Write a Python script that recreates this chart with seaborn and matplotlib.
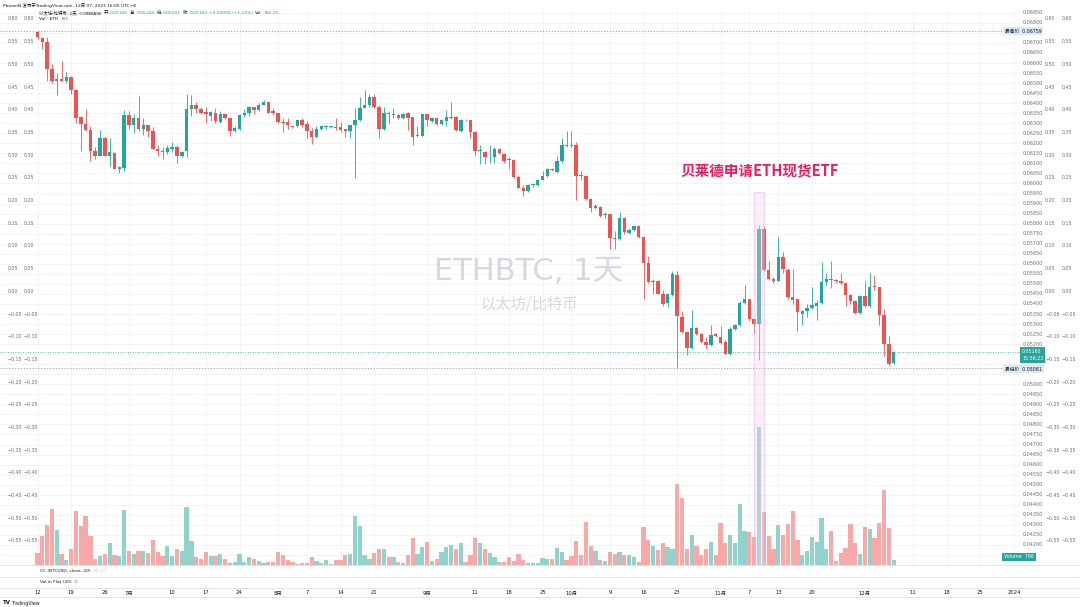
import numpy as np
import pandas as pd
import matplotlib
matplotlib.use("Agg")
import matplotlib.pyplot as plt
import seaborn as sns
from matplotlib.patches import Rectangle
from matplotlib.lines import Line2D
from matplotlib import transforms

# ETHBTC, 1D, COINBASE  -- 2023-06-12 .. 2023-12-07
opens = [
    0.06755, 0.06726, 0.06705, 0.06568, 0.06511, 0.06518, 0.06511, 0.06530, 0.06468, 0.06331,
    0.06297, 0.06264, 0.06164, 0.06139, 0.06228, 0.06139, 0.06152, 0.06073, 0.06079, 0.06341,
    0.06290, 0.06328, 0.06273, 0.06290, 0.06259, 0.06173, 0.06164, 0.06159, 0.06171, 0.06180,
    0.06135, 0.06161, 0.06372, 0.06389, 0.06372, 0.06355, 0.06336, 0.06353, 0.06307, 0.06345,
    0.06324, 0.06259, 0.06273, 0.06340, 0.06353, 0.06379, 0.06367, 0.06393, 0.06408, 0.06359,
    0.06352, 0.06307, 0.06304, 0.06285, 0.06285, 0.06316, 0.06297, 0.06262, 0.06231, 0.06273,
    0.06281, 0.06281, 0.06281, 0.06281, 0.06269, 0.06259, 0.06290, 0.06314, 0.06377, 0.06393,
    0.06431, 0.06379, 0.06273, 0.06353, 0.06341, 0.06341, 0.06324, 0.06353, 0.06331, 0.06237,
    0.06238, 0.06345, 0.06310, 0.06324, 0.06297, 0.06310, 0.06324, 0.06331, 0.06262, 0.06317,
    0.06314, 0.06256, 0.06161, 0.06158, 0.06130, 0.06132, 0.06170, 0.06149, 0.06122, 0.06115,
    0.06032, 0.05979, 0.05964, 0.05991, 0.05993, 0.06019, 0.06036, 0.06073, 0.06056, 0.06113,
    0.06194, 0.06190, 0.06190, 0.06039, 0.06039, 0.05924, 0.05878, 0.05885, 0.05842, 0.05847,
    0.05730, 0.05723, 0.05826, 0.05752, 0.05770, 0.05787, 0.05732, 0.05606, 0.05509, 0.05516,
    0.05452, 0.05404, 0.05443, 0.05546, 0.05335, 0.05260, 0.05181, 0.05280, 0.05249, 0.05211,
    0.05198, 0.05249, 0.05236, 0.05211, 0.05151, 0.05277, 0.05294, 0.05404, 0.05423, 0.05323,
    0.05301, 0.05773, 0.05567, 0.05526, 0.05516, 0.05632, 0.05567, 0.05435, 0.05423, 0.05352,
    0.05363, 0.05380, 0.05392, 0.05406, 0.05507, 0.05524, 0.05517, 0.05512, 0.05503, 0.05443,
    0.05414, 0.05354, 0.05440, 0.05392, 0.05490, 0.05483, 0.05345, 0.05203, 0.05106,
]
highs = [
    0.06759, 0.06731, 0.06731, 0.06594, 0.06551, 0.06611, 0.06554, 0.06537, 0.06470, 0.06336,
    0.06371, 0.06285, 0.06182, 0.06267, 0.06230, 0.06225, 0.06156, 0.06087, 0.06367, 0.06362,
    0.06345, 0.06434, 0.06324, 0.06293, 0.06283, 0.06190, 0.06182, 0.06190, 0.06207, 0.06190,
    0.06164, 0.06448, 0.06439, 0.06405, 0.06383, 0.06383, 0.06362, 0.06376, 0.06362, 0.06345,
    0.06328, 0.06288, 0.06345, 0.06371, 0.06388, 0.06383, 0.06400, 0.06417, 0.06408, 0.06376,
    0.06353, 0.06324, 0.06324, 0.06286, 0.06317, 0.06324, 0.06310, 0.06276, 0.06285, 0.06293,
    0.06290, 0.06286, 0.06324, 0.06307, 0.06273, 0.06290, 0.06376, 0.06431, 0.06468, 0.06448,
    0.06444, 0.06393, 0.06383, 0.06362, 0.06376, 0.06345, 0.06352, 0.06357, 0.06331, 0.06285,
    0.06348, 0.06348, 0.06331, 0.06328, 0.06319, 0.06365, 0.06408, 0.06336, 0.06319, 0.06321,
    0.06317, 0.06259, 0.06190, 0.06161, 0.06190, 0.06182, 0.06176, 0.06152, 0.06130, 0.06122,
    0.06044, 0.05993, 0.05998, 0.06001, 0.06022, 0.06061, 0.06079, 0.06079, 0.06139, 0.06225,
    0.06259, 0.06262, 0.06207, 0.06061, 0.06044, 0.05927, 0.05898, 0.05890, 0.05856, 0.05850,
    0.05761, 0.05856, 0.05833, 0.05778, 0.05790, 0.05792, 0.05735, 0.05641, 0.05524, 0.05521,
    0.05469, 0.05452, 0.05564, 0.05564, 0.05366, 0.05263, 0.05370, 0.05284, 0.05254, 0.05237,
    0.05297, 0.05254, 0.05289, 0.05220, 0.05284, 0.05301, 0.05414, 0.05495, 0.05426, 0.05332,
    0.05795, 0.05787, 0.05615, 0.05534, 0.05735, 0.05658, 0.05581, 0.05572, 0.05426, 0.05370,
    0.05400, 0.05486, 0.05418, 0.05610, 0.05552, 0.05612, 0.05524, 0.05552, 0.05507, 0.05452,
    0.05418, 0.05443, 0.05512, 0.05555, 0.05546, 0.05486, 0.05375, 0.05241, 0.05168,
]
lows = [
    0.06719, 0.06671, 0.06508, 0.06499, 0.06439, 0.06508, 0.06499, 0.06448, 0.06302, 0.06164,
    0.06259, 0.06113, 0.06122, 0.06135, 0.06135, 0.06087, 0.06070, 0.06053, 0.06061, 0.06273,
    0.06250, 0.06259, 0.06242, 0.06233, 0.06170, 0.06135, 0.06122, 0.06147, 0.06156, 0.06104,
    0.06130, 0.06130, 0.06336, 0.06353, 0.06345, 0.06302, 0.06310, 0.06302, 0.06302, 0.06319,
    0.06238, 0.06254, 0.06267, 0.06331, 0.06336, 0.06345, 0.06362, 0.06389, 0.06350, 0.06341,
    0.06300, 0.06256, 0.06273, 0.06278, 0.06281, 0.06281, 0.06228, 0.06199, 0.06225, 0.06264,
    0.06273, 0.06276, 0.06267, 0.06256, 0.06233, 0.06228, 0.06027, 0.06310, 0.06376, 0.06383,
    0.06376, 0.06225, 0.06267, 0.06297, 0.06324, 0.06319, 0.06319, 0.06266, 0.06190, 0.06233,
    0.06238, 0.06285, 0.06307, 0.06290, 0.06290, 0.06285, 0.06319, 0.06259, 0.06256, 0.06310,
    0.06228, 0.06135, 0.06099, 0.06099, 0.06101, 0.06101, 0.06147, 0.06104, 0.06070, 0.06027,
    0.05976, 0.05936, 0.05958, 0.05984, 0.05989, 0.06015, 0.06032, 0.06061, 0.06053, 0.06104,
    0.06182, 0.06180, 0.05916, 0.06019, 0.05916, 0.05856, 0.05873, 0.05833, 0.05830, 0.05675,
    0.05675, 0.05718, 0.05747, 0.05747, 0.05764, 0.05727, 0.05426, 0.05503, 0.05452, 0.05449,
    0.05392, 0.05387, 0.05438, 0.05081, 0.05255, 0.05146, 0.05174, 0.05246, 0.05208, 0.05177,
    0.05191, 0.05237, 0.05203, 0.05150, 0.05148, 0.05272, 0.05289, 0.05400, 0.05315, 0.05255,
    0.05122, 0.05564, 0.05521, 0.05503, 0.05512, 0.05555, 0.05426, 0.05400, 0.05263, 0.05297,
    0.05335, 0.05375, 0.05318, 0.05400, 0.05495, 0.05478, 0.05503, 0.05495, 0.05392, 0.05400,
    0.05349, 0.05349, 0.05387, 0.05387, 0.05469, 0.05297, 0.05143, 0.05091, 0.05101,
]
closes = [
    0.06731, 0.06705, 0.06568, 0.06508, 0.06520, 0.06511, 0.06530, 0.06468, 0.06328, 0.06297,
    0.06264, 0.06164, 0.06139, 0.06228, 0.06139, 0.06156, 0.06073, 0.06080, 0.06341, 0.06290,
    0.06328, 0.06273, 0.06290, 0.06259, 0.06173, 0.06163, 0.06159, 0.06176, 0.06182, 0.06135,
    0.06156, 0.06371, 0.06389, 0.06371, 0.06353, 0.06345, 0.06355, 0.06310, 0.06345, 0.06324,
    0.06262, 0.06276, 0.06340, 0.06353, 0.06379, 0.06367, 0.06393, 0.06407, 0.06353, 0.06352,
    0.06307, 0.06300, 0.06290, 0.06281, 0.06316, 0.06290, 0.06262, 0.06231, 0.06273, 0.06288,
    0.06286, 0.06283, 0.06278, 0.06266, 0.06259, 0.06290, 0.06314, 0.06377, 0.06393, 0.06431,
    0.06379, 0.06273, 0.06353, 0.06345, 0.06345, 0.06324, 0.06348, 0.06328, 0.06233, 0.06242,
    0.06345, 0.06314, 0.06324, 0.06297, 0.06314, 0.06331, 0.06331, 0.06267, 0.06314, 0.06314,
    0.06256, 0.06161, 0.06166, 0.06130, 0.06134, 0.06170, 0.06152, 0.06113, 0.06118, 0.06032,
    0.05979, 0.05964, 0.05991, 0.05996, 0.06019, 0.06039, 0.06073, 0.06067, 0.06113, 0.06194,
    0.06187, 0.06185, 0.06039, 0.06036, 0.05924, 0.05876, 0.05886, 0.05838, 0.05847, 0.05730,
    0.05723, 0.05826, 0.05758, 0.05770, 0.05787, 0.05732, 0.05606, 0.05507, 0.05516, 0.05452,
    0.05400, 0.05448, 0.05550, 0.05340, 0.05260, 0.05181, 0.05280, 0.05249, 0.05211, 0.05198,
    0.05246, 0.05242, 0.05206, 0.05151, 0.05277, 0.05294, 0.05404, 0.05423, 0.05323, 0.05301,
    0.05773, 0.05567, 0.05526, 0.05516, 0.05632, 0.05572, 0.05435, 0.05418, 0.05358, 0.05366,
    0.05380, 0.05395, 0.05406, 0.05507, 0.05526, 0.05517, 0.05512, 0.05503, 0.05443, 0.05414,
    0.05354, 0.05440, 0.05392, 0.05486, 0.05483, 0.05345, 0.05203, 0.05102, 0.05160,
]
volumes = [
    1820, 4316, 5980, 8424, 5304, 1716, 780, 2340, 8216, 5824,
    7384, 4420, 884, 1404, 1716, 3380, 1456, 1300, 8320, 2080,
    1612, 2184, 2184, 1820, 3744, 1976, 1404, 2860, 1300, 2444,
    2184, 8736, 3640, 1196, 936, 1924, 1404, 1404, 1716, 936,
    364, 468, 1612, 520, 1196, 936, 676, 260, 468, 468,
    2028, 1560, 780, 520, 156, 260, 364, 1196, 676, 364,
    780, 156, 780, 780, 1560, 1612, 7384, 5824, 1456, 936,
    1820, 2444, 2444, 1196, 1196, 520, 364, 1456, 4056, 1612,
    2756, 3484, 676, 884, 1976, 2704, 3016, 2444, 3276, 520,
    1456, 4004, 3276, 2340, 1820, 1196, 468, 520, 1144, 676,
    1716, 780, 260, 260, 260, 1040, 936, 936, 2600, 1976,
    780, 1300, 3640, 1456, 6500, 2860, 2184, 780, 676, 1976,
    1716, 1976, 1560, 1560, 1196, 520, 5720, 3796, 2860, 2236,
    3380, 2704, 2340, 12220, 10036, 2340, 4524, 2860, 1560, 2340,
    3536, 1560, 6396, 3380, 4524, 3380, 9204, 5200, 4940, 4160,
    20800, 7956, 4420, 2340, 5980, 4524, 6136, 8216, 3744, 1560,
    2184, 4160, 3536, 7020, 2340, 5096, 676, 1820, 2496, 6136,
    3380, 1716, 5720, 5356, 4056, 6396, 11284, 5564, 786.25,
]

tick_days = [0, 7, 14, 19, 28, 35, 42, 50, 56, 63, 70, 81, 91, 98,
             105, 111, 119, 126, 133, 142, 148, 154, 161, 172, 182, 189, 196, 203]
tick_labels = ["12", "19", "26", "7月", "10", "17", "24", "8月", "7", "14", "21", "9月", "11", "18",
               "25", "10月", "9", "16", "23", "11月", "7", "13", "20", "12月", "11", "18", "25", "2024"]
osc_ticks = [0.60, 0.55, 0.50, 0.45, 0.40, 0.35, 0.30, 0.25, 0.20, 0.15, 0.10, 0.05,
             0.00, -0.05, -0.10, -0.15, -0.20, -0.25, -0.30, -0.35, -0.40, -0.45, -0.50, -0.55]

assert len(opens) == len(highs) == len(lows) == len(closes) == len(volumes) == 179

W, H = 1080, 607
UP, DOWN = "#26a69a", "#ef5350"
DARK, GREY = "#131722", "#6a6d78"
YLO, YHI = 0.04100, 0.06864


def fx(x):
    return x / W


def fy(y):
    return 1 - y / H


sns.set_theme(style="white")
plt.rcParams["font.family"] = ["DejaVu Sans", "Noto Sans CJK SC"]

fig = plt.figure(figsize=(W / 100, H / 100), dpi=100)
fig.patch.set_facecolor("white")
renderer = fig.canvas.get_renderer()
ax = fig.add_axes([0, fy(565), fx(1020), (565 - 10) / H])


def run(x, y, parts, size=3.2, gap=2.0):
    # place text pieces one after another on a line
    for s, cc in parts:
        t = fig.text(fx(x), fy(y), s, ha="left", va="center", fontsize=size, color=cc)
        x = t.get_window_extent(renderer).x1 + gap


o, h, l, c = map(np.array, (opens, highs, lows, closes))
idx = np.arange(len(c))
col = np.where(c >= o, UP, DOWN)

# grid
price_ticks = np.round(np.arange(0.0415, 0.06851, 0.0005), 5)
ax.set_xlim(-37.5 / 4.81, (1020 - 37.5) / 4.81)
ax.set_ylim(YLO, YHI)
ax.set_xticks(tick_days)
ax.set_yticks(price_ticks)
ax.grid(True, color="#f0f2f6", lw=0.6)
ax.tick_params(length=0, labelbottom=False, labelleft=False)
for s in ax.spines.values():
    s.set_visible(False)

# candles
ax.vlines(idx, l, h, colors=col, lw=0.6, zorder=3)
ax.bar(idx, np.maximum(np.abs(c - o), 0.00004), bottom=np.minimum(o, c),
       width=0.72, color=col, lw=0, zorder=4)

# highest / lowest / last price lines
ax.axhline(max(highs), color="#9598a1", lw=0.6, ls=(0, (1.5, 2)), zorder=2)
ax.axhline(min(lows), color="#9598a1", lw=0.6, ls=(0, (1.5, 2)), zorder=2)
ax.axhline(closes[-1], color=UP, lw=0.6, ls=(0, (1, 2)), zorder=2)

# volume pane (overlay)
axv = ax.twinx()
axv.set_ylim(0, 83700)
vol_df = pd.DataFrame({"day": idx, "volume": volumes,
                       "dir": np.where(c >= o, "up", "down")})
sns.barplot(data=vol_df, x="day", y="volume", hue="dir", native_scale=True,
            palette={"up": "#92d2cc", "down": "#f7a9a7"}, dodge=False, width=0.88,
            saturation=1, errorbar=None, legend=False, linewidth=0, ax=axv)
axv.set_xlim(ax.get_xlim())
axv.axis("off")

# highlight of the BlackRock filing day (2023-11-09)
axv.add_patch(Rectangle((148.96, 0), 2.08, 56200, facecolor="#f6d6ee", alpha=0.35,
                        edgecolor="#d79ae0", lw=1.0, zorder=6))
ax.text(150, 0.06067, "贝莱德申请ETH现货ETF", ha="center", va="center", fontsize=10.5,
        color="#e91e63", fontweight="bold", family=["Noto Sans CJK SC", "DejaVu Sans"], zorder=7)

# watermark
fig.text(fx(529), fy(272), "ETHBTC, 1天", ha="center", va="center", fontsize=22,
         color="#d6d8de", family=["DejaVu Sans", "Noto Sans CJK SC"], zorder=0.5)
fig.text(fx(529), fy(304), "以太坊/比特币", ha="center", va="center", fontsize=11,
         color="#d6d8de", family=["Noto Sans CJK SC", "DejaVu Sans"], zorder=0.5)

# right price scale (labels under the tags stay hidden, as on the chart)
tag_rows = [31, 355, 369, 557]
ytr = transforms.blended_transform_factory(fig.transFigure, ax.transData)
for p in price_ticks:
    ypx = 10 + (YHI - p) / (YHI - YLO) * 555
    if min(abs(ypx - t) for t in tag_rows) < 6:
        continue
    fig.text(fx(1023), p, f"{p:.5f}", transform=ytr, ha="left", va="center",
             fontsize=3.5, color=GREY)

# the two extra oscillator scales on each side
axo = fig.add_axes(ax.get_position().bounds, frameon=False)
axo.set_ylim(-0.6029, 0.6198)
axo.axis("off")
otr = transforms.blended_transform_factory(fig.transFigure, axo.transData)
for v in osc_ticks:
    lab = f"{v:.2f}".replace("-", "\u2212")
    for xp in (7.5, 24, 1045, 1062):
        fig.text(fx(xp), v, lab, transform=otr, ha="left", va="center", fontsize=3.4, color=GREY)

# price tags
tag = dict(boxstyle="square,pad=0.35", fc="#dde8f8", ec="none")
fig.text(fx(1005), fy(31), f"最高价  {max(highs):.5f}", ha="left", va="center",
         fontsize=3.4, color=DARK, bbox=tag, zorder=5)
fig.text(fx(1005), fy(369), f"最低价  {min(lows):.5f}", ha="left", va="center",
         fontsize=3.4, color=DARK, bbox=tag, zorder=5)
fig.text(fx(1022), fy(355), f"{closes[-1]:.5f}\n15:56:23", ha="left", va="center",
         fontsize=3.4, color="white", linespacing=1.3,
         bbox=dict(boxstyle="square,pad=0.45", fc=UP, ec="none"), zorder=5)
fig.text(fx(1004), fy(557), f"Volume  {volumes[-1]:.0f}", ha="left", va="center",
         fontsize=3.4, color="white",
         bbox=dict(boxstyle="square,pad=0.35", fc=UP, ec="none"), zorder=5)

# pane separators
for yy in (565, 576.5, 588, 597):
    fig.add_artist(Line2D([0, fx(1078)], [fy(yy), fy(yy)], color="#e0e3eb", lw=0.7))

# date axis
xtr = transforms.blended_transform_factory(ax.transData, fig.transFigure)
for d, lab in zip(tick_days, tick_labels):
    ax.text(d, fy(593), lab, transform=xtr, ha="center", va="center",
            fontsize=3.8, color=DARK, clip_on=False)

# header
fig.text(fx(3), fy(5), "PhoronN 发布于TradingView.com, 12月 07, 2023 16:05 UTC+8",
         ha="left", va="center", fontsize=3.2, color=DARK)
chg = closes[-1] - closes[-2]
run(39, 13, [("以太坊/比特币, 1天, COINBASE", DARK),
             ("开", DARK), (f"{opens[-1]:.5f}", UP),
             ("高", DARK), (f"{highs[-1]:.5f}", UP),
             ("低", DARK), (f"{lows[-1]:.5f}", UP),
             ("收", DARK), (f"{closes[-1]:.5f}", UP),
             (f"+{chg:.5f} (+{chg / closes[-2] * 100:.2f}%)", UP),
             ("Vol", DARK), (f"{volumes[-1]:.2f}", UP)])
run(39, 19.5, [("Vol · ETH", DARK), (f"{volumes[-1]:.0f}", UP)])

# indicator legends below
run(40, 570.5, [("CC (BTCUSD, close, 20)", DARK), ("\u22120.77", "#f5c518")])
run(40, 582, [("Vol in Flat (20)", DARK), ("\u2205", GREY)])

# logo
fig.text(fx(3), fy(603), "TV", ha="left", va="center", fontsize=4, color=DARK, fontweight="bold")
fig.text(fx(12), fy(603), "TradingView", ha="left", va="center", fontsize=3.4, color=DARK)

fig.savefig("out.png", dpi=100)
